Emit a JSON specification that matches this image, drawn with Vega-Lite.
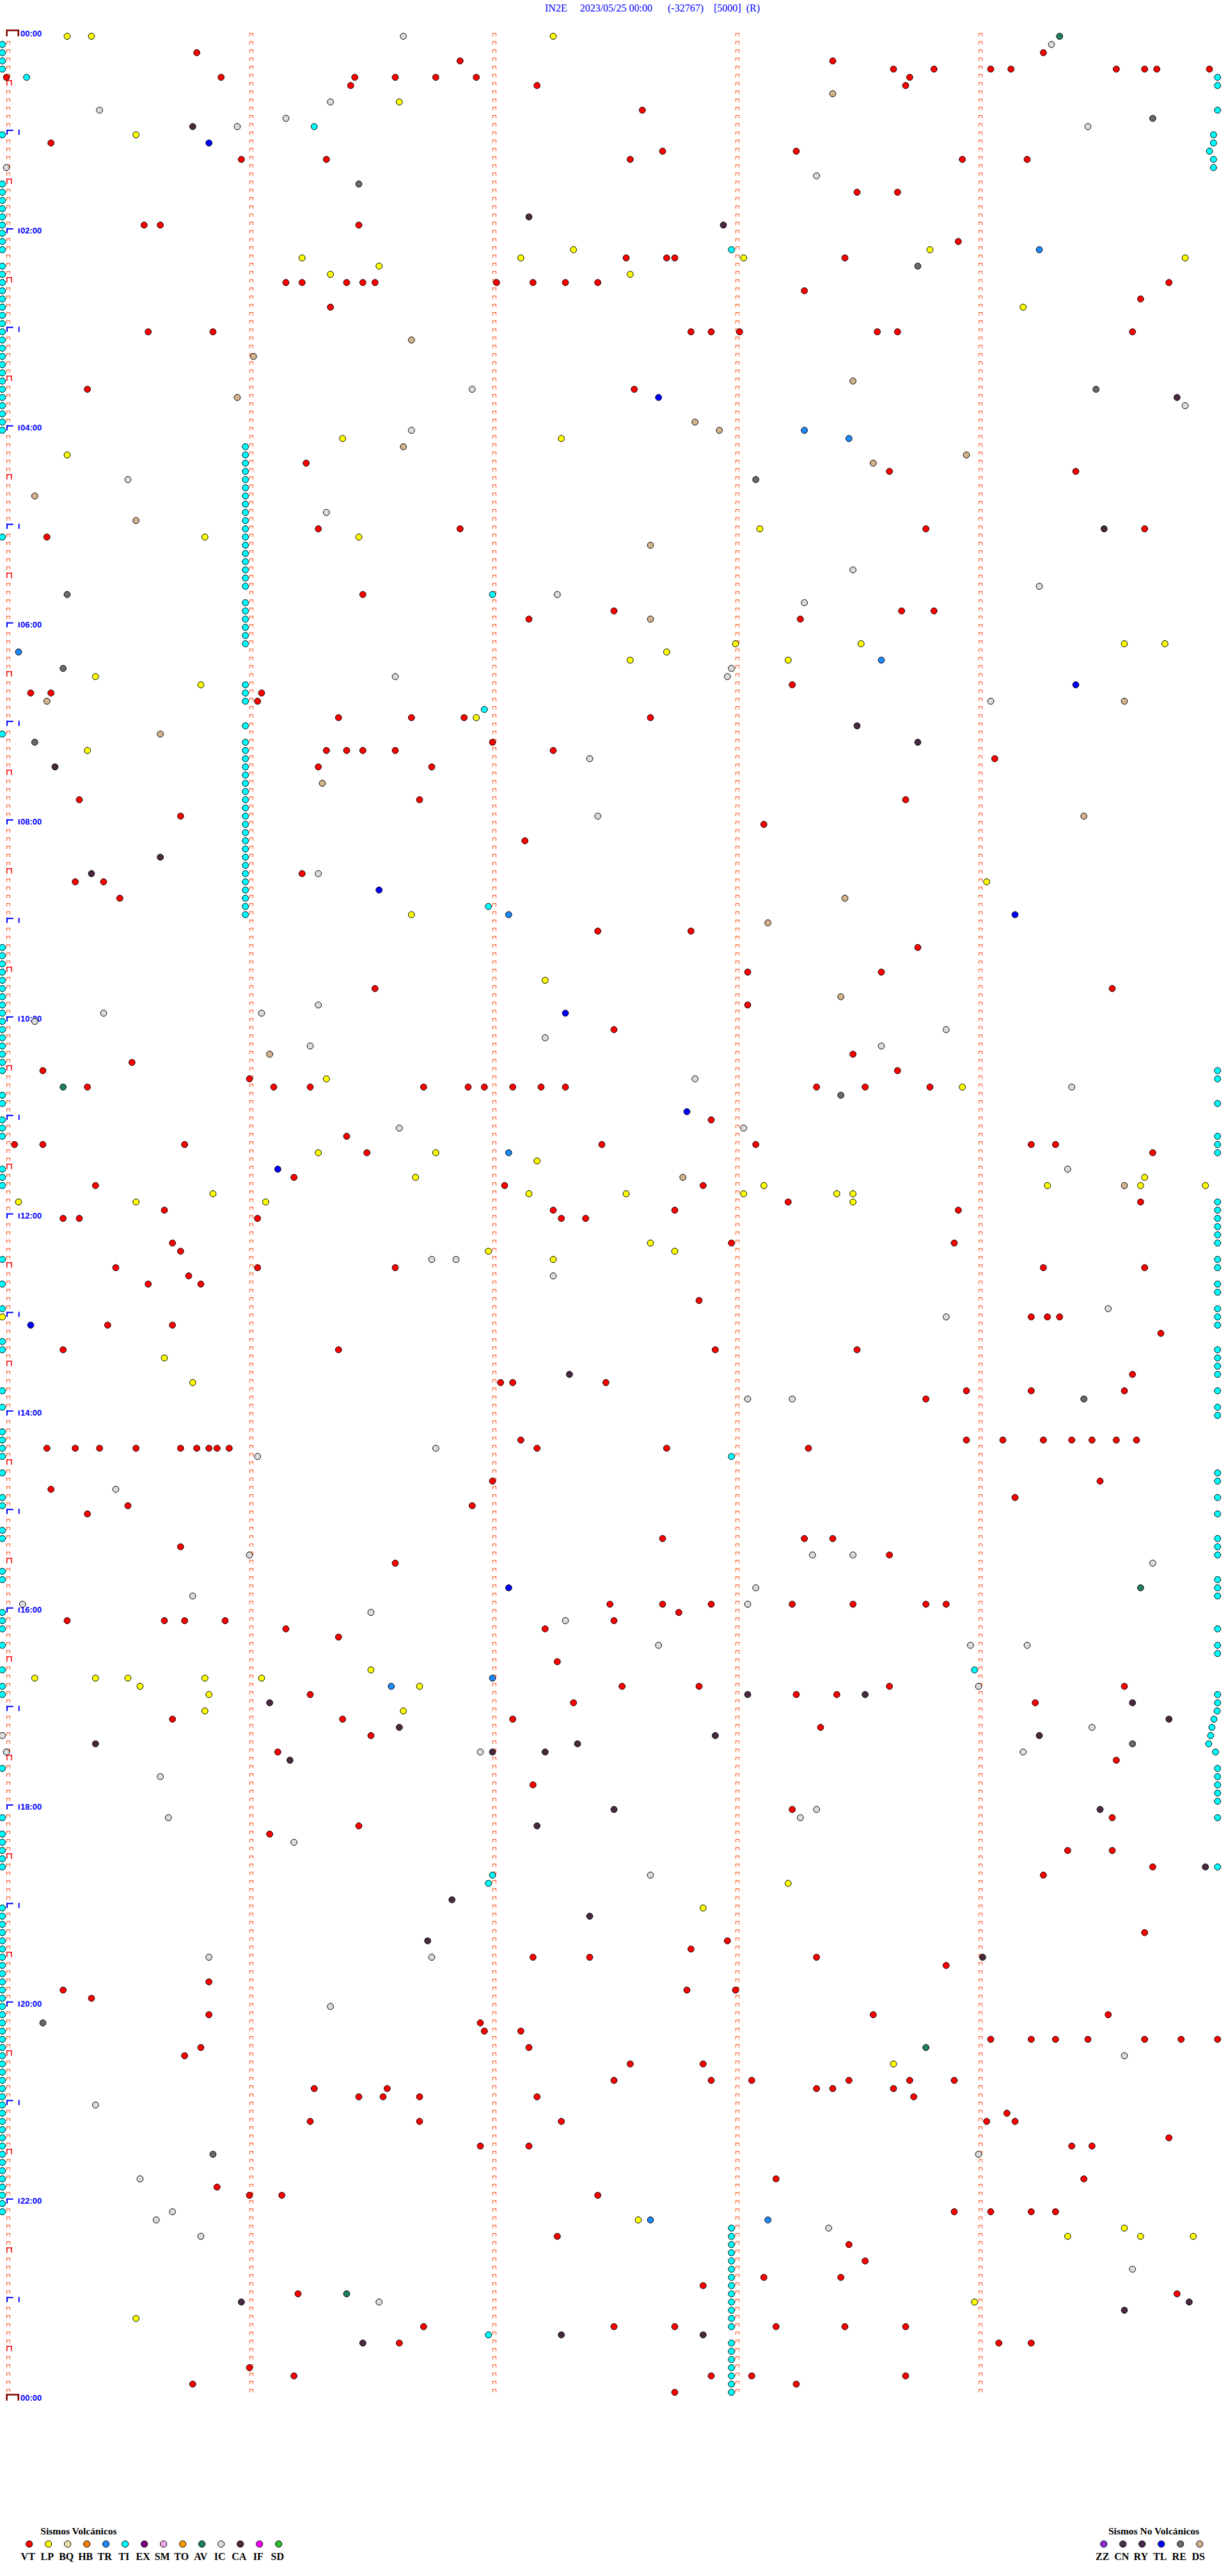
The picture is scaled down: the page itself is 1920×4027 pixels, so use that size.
{
"$schema": "https://vega.github.io/schema/vega-lite/v6.json",
"width": 1920, "height": 4027, "autosize": "none", "padding": 0, "background": "#ffffff",
"config": {"view": {"stroke": null}},
"title": {"text": "IN2E\u00a0\u00a0\u00a0\u00a0\u00a02023/05/25 00:00\u00a0\u00a0\u00a0\u00a0\u00a0\u00a0(-32767)\u00a0\u00a0\u00a0\u00a0[5000]\u00a0\u00a0(R)", "font": "Liberation Serif", "fontSize": 16, "fontWeight": "normal", "color": "#0000ff", "anchor": "middle", "frame": "group", "baseline": "alphabetic", "offset": -34, "dx": 60},
"datasets": {
"tk": [{"s":60,"a":-5,"b":1435},{"s":120,"a":-5,"b":1435},{"s":180,"a":-5,"b":1435},{"s":240,"a":-5,"b":1435}],
"tk0": [{"s":0,"a":0,"b":1440}],
"hr": [{"s":0,"a":0,"b":1380}],
"hh": [{"s":0,"a":0,"b":1410}],
"ends": [{"s":0,"m":0},{"s":0,"m":1440}],
"lab": [{"m":0,"l":"00:00"},{"m":120,"l":"02:00"},{"m":240,"l":"04:00"},{"m":360,"l":"06:00"},{"m":480,"l":"08:00"},{"m":600,"l":"10:00"},{"m":720,"l":"12:00"},{"m":840,"l":"14:00"},{"m":960,"l":"16:00"},{"m":1080,"l":"18:00"},{"m":1200,"l":"20:00"},{"m":1320,"l":"22:00"},{"m":1440,"l":"00:00"}],
"lv": [{"t":"VT"},{"t":"LP"},{"t":"BQ"},{"t":"HB"},{"t":"TR"},{"t":"TI"},{"t":"EX"},{"t":"SM"},{"t":"TO"},{"t":"AV"},{"t":"IC"},{"t":"CA"},{"t":"IF"},{"t":"SD"}],
"ln": [{"t":"ZZ"},{"t":"CN"},{"t":"RY"},{"t":"TL"},{"t":"RE"},{"t":"DS"}],
"ev": [
{"m":0,"s":15,"t":"LP"},{"m":0,"s":21,"t":"LP"},{"m":0,"s":98,"t":"IC"},{"m":0,"s":135,"t":"LP"},{"m":0,"s":260,"t":"AV"},{"m":5,"s":258,"t":"IC"},
{"m":10,"s":47,"t":"VT"},{"m":10,"s":256,"t":"VT"},{"m":15,"s":112,"t":"VT"},{"m":15,"s":204,"t":"VT"},
{"m":20,"s":219,"t":"VT"},{"m":20,"s":229,"t":"VT"},{"m":20,"s":243,"t":"VT"},{"m":20,"s":248,"t":"VT"},{"m":20,"s":274,"t":"VT"},{"m":20,"s":281,"t":"VT"},{"m":20,"s":284,"t":"VT"},{"m":20,"s":297,"t":"VT"},
{"m":25,"s":0,"t":"VT"},{"m":25,"s":5,"t":"TI"},{"m":25,"s":53,"t":"VT"},{"m":25,"s":86,"t":"VT"},{"m":25,"s":96,"t":"VT"},{"m":25,"s":106,"t":"VT"},{"m":25,"s":116,"t":"VT"},{"m":25,"s":223,"t":"VT"},
{"m":30,"s":85,"t":"VT"},{"m":30,"s":131,"t":"VT"},{"m":30,"s":222,"t":"VT"},
{"m":35,"s":204,"t":"DS"},{"m":40,"s":80,"t":"IC"},{"m":40,"s":97,"t":"LP"},{"m":45,"s":23,"t":"IC"},{"m":45,"s":157,"t":"VT"},
{"m":50,"s":69,"t":"IC"},{"m":50,"s":283,"t":"RE"},{"m":55,"s":46,"t":"CA"},{"m":55,"s":57,"t":"IC"},{"m":55,"s":76,"t":"TI"},{"m":55,"s":267,"t":"IC"},
{"m":60,"s":32,"t":"LP"},{"m":65,"s":11,"t":"VT"},{"m":65,"s":50,"t":"TL"},{"m":70,"s":162,"t":"VT"},{"m":70,"s":195,"t":"VT"},
{"m":75,"s":58,"t":"VT"},{"m":75,"s":79,"t":"VT"},{"m":75,"s":154,"t":"VT"},{"m":75,"s":236,"t":"VT"},{"m":75,"s":252,"t":"VT"},
{"m":80,"s":0,"t":"IC"},{"m":85,"s":200,"t":"IC"},{"m":90,"s":87,"t":"RE"},{"m":95,"s":210,"t":"VT"},{"m":95,"s":220,"t":"VT"},
{"m":110,"s":129,"t":"CA"},{"m":115,"s":177,"t":"CA"},{"m":115,"s":34,"t":"VT"},{"m":115,"s":38,"t":"VT"},{"m":115,"s":87,"t":"VT"},{"m":125,"s":235,"t":"VT"},
{"m":130,"s":179,"t":"TI"},{"m":130,"s":140,"t":"LP"},{"m":130,"s":228,"t":"LP"},{"m":130,"s":255,"t":"TR"},
{"m":135,"s":73,"t":"LP"},{"m":135,"s":127,"t":"LP"},{"m":135,"s":153,"t":"VT"},{"m":135,"s":163,"t":"VT"},{"m":135,"s":165,"t":"VT"},{"m":135,"s":182,"t":"LP"},{"m":135,"s":207,"t":"VT"},{"m":140,"s":225,"t":"RE"},{"m":135,"s":291,"t":"LP"},
{"m":140,"s":92,"t":"LP"},{"m":145,"s":80,"t":"LP"},
{"m":150,"s":69,"t":"VT"},{"m":150,"s":73,"t":"VT"},{"m":150,"s":84,"t":"VT"},{"m":150,"s":88,"t":"VT"},{"m":150,"s":91,"t":"VT"},{"m":150,"s":121,"t":"VT"},{"m":150,"s":130,"t":"VT"},{"m":150,"s":138,"t":"VT"},{"m":150,"s":146,"t":"VT"},{"m":150,"s":287,"t":"VT"},
{"m":145,"s":154,"t":"LP"},{"m":155,"s":197,"t":"VT"},{"m":160,"s":280,"t":"VT"},{"m":165,"s":80,"t":"VT"},{"m":165,"s":251,"t":"LP"},
{"m":180,"s":35,"t":"VT"},{"m":180,"s":51,"t":"VT"},{"m":180,"s":169,"t":"VT"},{"m":180,"s":174,"t":"VT"},{"m":180,"s":181,"t":"VT"},{"m":180,"s":215,"t":"VT"},{"m":180,"s":220,"t":"VT"},{"m":180,"s":278,"t":"VT"},
{"m":185,"s":100,"t":"DS"},{"m":195,"s":61,"t":"DS"},
{"m":215,"s":20,"t":"VT"},{"m":215,"s":115,"t":"IC"},{"m":215,"s":155,"t":"VT"},{"m":220,"s":161,"t":"TL"},{"m":210,"s":209,"t":"DS"},{"m":215,"s":269,"t":"RE"},{"m":220,"s":289,"t":"CA"},{"m":225,"s":291,"t":"IC"},{"m":220,"s":57,"t":"DS"},
{"m":240,"s":100,"t":"IC"},{"m":235,"s":170,"t":"DS"},{"m":240,"s":176,"t":"DS"},{"m":240,"s":197,"t":"TR"},{"m":245,"s":208,"t":"TR"},{"m":245,"s":83,"t":"LP"},{"m":245,"s":137,"t":"LP"},{"m":250,"s":98,"t":"DS"},
{"m":255,"s":15,"t":"LP"},{"m":260,"s":214,"t":"DS"},{"m":255,"s":237,"t":"DS"},{"m":260,"s":74,"t":"VT"},{"m":265,"s":218,"t":"VT"},{"m":265,"s":264,"t":"VT"},{"m":270,"s":30,"t":"IC"},{"m":270,"s":185,"t":"RE"},
{"m":280,"s":7,"t":"DS"},{"m":290,"s":79,"t":"IC"},{"m":295,"s":32,"t":"DS"},{"m":300,"s":77,"t":"VT"},{"m":305,"s":87,"t":"LP"},{"m":300,"s":112,"t":"VT"},{"m":305,"s":10,"t":"VT"},{"m":305,"s":49,"t":"LP"},{"m":300,"s":186,"t":"LP"},{"m":300,"s":227,"t":"VT"},{"m":300,"s":271,"t":"CA"},{"m":300,"s":281,"t":"VT"},
{"m":310,"s":159,"t":"DS"},{"m":325,"s":209,"t":"IC"},{"m":340,"s":15,"t":"RE"},{"m":335,"s":255,"t":"IC"},{"m":340,"s":136,"t":"IC"},{"m":340,"s":120,"t":"TI"},{"m":340,"s":88,"t":"VT"},{"m":345,"s":197,"t":"IC"},{"m":350,"s":150,"t":"VT"},{"m":350,"s":221,"t":"VT"},{"m":350,"s":229,"t":"VT"},{"m":355,"s":129,"t":"VT"},{"m":355,"s":196,"t":"VT"},{"m":355,"s":159,"t":"DS"},
{"m":370,"s":180,"t":"LP"},{"m":370,"s":211,"t":"LP"},{"m":370,"s":276,"t":"LP"},{"m":370,"s":286,"t":"LP"},{"m":375,"s":3,"t":"TR"},{"m":375,"s":163,"t":"LP"},{"m":380,"s":154,"t":"LP"},{"m":380,"s":193,"t":"LP"},{"m":380,"s":216,"t":"TR"},{"m":385,"s":14,"t":"RE"},{"m":390,"s":22,"t":"LP"},{"m":390,"s":96,"t":"IC"},{"m":385,"s":179,"t":"IC"},{"m":390,"s":178,"t":"IC"},{"m":395,"s":48,"t":"LP"},{"m":395,"s":264,"t":"TL"},
{"m":400,"s":6,"t":"VT"},{"m":400,"s":11,"t":"VT"},{"m":405,"s":10,"t":"DS"},{"m":400,"s":63,"t":"VT"},{"m":405,"s":62,"t":"VT"},{"m":405,"s":243,"t":"IC"},{"m":405,"s":276,"t":"DS"},{"m":395,"s":194,"t":"VT"},
{"m":410,"s":118,"t":"TI"},{"m":415,"s":116,"t":"LP"},{"m":415,"s":82,"t":"VT"},{"m":415,"s":100,"t":"VT"},{"m":415,"s":113,"t":"VT"},{"m":415,"s":159,"t":"VT"},{"m":420,"s":210,"t":"CA"},{"m":425,"s":38,"t":"DS"},
{"m":430,"s":7,"t":"RE"},{"m":430,"s":225,"t":"CA"},{"m":440,"s":244,"t":"VT"},{"m":435,"s":20,"t":"LP"},{"m":435,"s":79,"t":"VT"},{"m":435,"s":84,"t":"VT"},{"m":435,"s":88,"t":"VT"},{"m":435,"s":96,"t":"VT"},{"m":430,"s":120,"t":"VT"},{"m":435,"s":135,"t":"VT"},
{"m":445,"s":12,"t":"CA"},{"m":445,"s":77,"t":"VT"},{"m":445,"s":105,"t":"VT"},{"m":440,"s":144,"t":"IC"},{"m":455,"s":78,"t":"DS"},
{"m":465,"s":18,"t":"VT"},{"m":465,"s":102,"t":"VT"},{"m":465,"s":222,"t":"VT"},{"m":475,"s":43,"t":"VT"},{"m":475,"s":146,"t":"IC"},{"m":480,"s":187,"t":"VT"},{"m":475,"s":266,"t":"DS"},{"m":490,"s":128,"t":"VT"},
{"m":500,"s":38,"t":"CA"},{"m":510,"s":21,"t":"CA"},{"m":515,"s":17,"t":"VT"},{"m":515,"s":24,"t":"VT"},{"m":525,"s":28,"t":"VT"},{"m":510,"s":73,"t":"VT"},{"m":510,"s":77,"t":"IC"},{"m":520,"s":92,"t":"TL"},{"m":515,"s":242,"t":"LP"},{"m":525,"s":207,"t":"DS"},
{"m":535,"s":100,"t":"LP"},{"m":530,"s":119,"t":"TI"},{"m":535,"s":124,"t":"TR"},{"m":535,"s":249,"t":"TL"},{"m":545,"s":146,"t":"VT"},{"m":545,"s":169,"t":"VT"},{"m":555,"s":225,"t":"VT"},{"m":540,"s":188,"t":"DS"},
{"m":570,"s":183,"t":"VT"},{"m":575,"s":133,"t":"LP"},{"m":570,"s":216,"t":"VT"},{"m":580,"s":273,"t":"VT"},{"m":580,"s":91,"t":"VT"},{"m":585,"s":206,"t":"DS"},{"m":590,"s":183,"t":"VT"},{"m":590,"s":77,"t":"IC"},{"m":595,"s":63,"t":"IC"},{"m":595,"s":24,"t":"IC"},{"m":595,"s":138,"t":"TL"},{"m":600,"s":7,"t":"IC"},{"m":605,"s":232,"t":"IC"},{"m":605,"s":150,"t":"VT"},{"m":610,"s":133,"t":"IC"},{"m":615,"s":75,"t":"IC"},{"m":620,"s":65,"t":"DS"},{"m":615,"s":216,"t":"IC"},{"m":620,"s":209,"t":"VT"},{"m":625,"s":31,"t":"VT"},{"m":630,"s":9,"t":"VT"},{"m":630,"s":220,"t":"VT"},
{"m":640,"s":14,"t":"AV"},{"m":640,"s":20,"t":"VT"},{"m":635,"s":60,"t":"VT"},{"m":640,"s":66,"t":"VT"},{"m":640,"s":75,"t":"VT"},{"m":635,"s":79,"t":"LP"},{"m":640,"s":103,"t":"VT"},{"m":640,"s":114,"t":"VT"},{"m":640,"s":118,"t":"VT"},{"m":640,"s":125,"t":"VT"},{"m":640,"s":132,"t":"VT"},{"m":640,"s":138,"t":"VT"},{"m":635,"s":170,"t":"IC"},{"m":640,"s":200,"t":"VT"},{"m":645,"s":206,"t":"RE"},{"m":640,"s":212,"t":"VT"},{"m":640,"s":228,"t":"VT"},{"m":640,"s":236,"t":"LP"},{"m":640,"s":263,"t":"IC"},
{"m":655,"s":168,"t":"TL"},{"m":660,"s":174,"t":"VT"},{"m":665,"s":97,"t":"IC"},{"m":665,"s":182,"t":"IC"},{"m":670,"s":84,"t":"VT"},{"m":675,"s":44,"t":"VT"},{"m":680,"s":77,"t":"LP"},{"m":680,"s":89,"t":"VT"},{"m":680,"s":106,"t":"LP"},{"m":680,"s":124,"t":"TR"},{"m":675,"s":147,"t":"VT"},{"m":675,"s":185,"t":"VT"},{"m":675,"s":253,"t":"VT"},{"m":675,"s":259,"t":"VT"},{"m":680,"s":283,"t":"VT"},
{"m":675,"s":2,"t":"VT"},{"m":675,"s":9,"t":"VT"},{"m":710,"s":3,"t":"LP"},
{"m":690,"s":67,"t":"TL"},{"m":695,"s":71,"t":"VT"},{"m":685,"s":131,"t":"LP"},{"m":690,"s":262,"t":"IC"},{"m":695,"s":167,"t":"DS"},{"m":695,"s":101,"t":"LP"},{"m":700,"s":22,"t":"VT"},{"m":700,"s":123,"t":"VT"},{"m":700,"s":257,"t":"LP"},{"m":700,"s":276,"t":"DS"},{"m":700,"s":280,"t":"LP"},{"m":695,"s":281,"t":"LP"},{"m":700,"s":296,"t":"LP"},
{"m":705,"s":51,"t":"LP"},{"m":710,"s":32,"t":"LP"},{"m":710,"s":64,"t":"LP"},{"m":705,"s":153,"t":"LP"},{"m":705,"s":182,"t":"LP"},{"m":700,"s":187,"t":"LP"},{"m":705,"s":205,"t":"LP"},{"m":705,"s":209,"t":"LP"},{"m":710,"s":209,"t":"LP"},{"m":705,"s":129,"t":"LP"},{"m":700,"s":172,"t":"VT"},
{"m":715,"s":39,"t":"VT"},{"m":715,"s":135,"t":"VT"},{"m":720,"s":143,"t":"VT"},{"m":720,"s":14,"t":"VT"},{"m":720,"s":18,"t":"VT"},{"m":720,"s":62,"t":"VT"},{"m":720,"s":137,"t":"VT"},{"m":715,"s":165,"t":"VT"},{"m":710,"s":193,"t":"VT"},{"m":715,"s":235,"t":"VT"},{"m":710,"s":280,"t":"VT"},
{"m":735,"s":41,"t":"VT"},{"m":740,"s":43,"t":"VT"},{"m":735,"s":159,"t":"LP"},{"m":740,"s":165,"t":"LP"},{"m":735,"s":179,"t":"VT"},{"m":735,"s":234,"t":"VT"},{"m":750,"s":281,"t":"VT"},{"m":740,"s":119,"t":"LP"},{"m":745,"s":105,"t":"IC"},{"m":745,"s":111,"t":"IC"},{"m":745,"s":135,"t":"LP"},{"m":750,"s":27,"t":"VT"},{"m":755,"s":45,"t":"VT"},{"m":750,"s":62,"t":"VT"},{"m":760,"s":48,"t":"VT"},{"m":755,"s":135,"t":"IC"},{"m":750,"s":256,"t":"VT"},{"m":750,"s":96,"t":"VT"},{"m":760,"s":35,"t":"VT"},{"m":770,"s":171,"t":"VT"},{"m":775,"s":272,"t":"IC"},
{"m":780,"s":-1,"t":"LP"},{"m":785,"s":6,"t":"TL"},{"m":785,"s":25,"t":"VT"},{"m":785,"s":41,"t":"VT"},{"m":800,"s":82,"t":"VT"},{"m":800,"s":14,"t":"VT"},{"m":780,"s":232,"t":"IC"},{"m":780,"s":253,"t":"VT"},{"m":780,"s":257,"t":"VT"},{"m":780,"s":260,"t":"VT"},{"m":790,"s":285,"t":"VT"},{"m":800,"s":175,"t":"VT"},{"m":800,"s":210,"t":"VT"},{"m":805,"s":39,"t":"LP"},{"m":815,"s":278,"t":"VT"},{"m":820,"s":46,"t":"LP"},{"m":820,"s":122,"t":"VT"},{"m":820,"s":125,"t":"VT"},{"m":815,"s":139,"t":"CA"},{"m":820,"s":148,"t":"VT"},{"m":825,"s":237,"t":"VT"},{"m":830,"s":227,"t":"VT"},{"m":825,"s":253,"t":"VT"},{"m":830,"s":266,"t":"RE"},{"m":825,"s":276,"t":"VT"},{"m":830,"s":183,"t":"IC"},{"m":830,"s":194,"t":"IC"},
{"m":855,"s":127,"t":"VT"},{"m":860,"s":131,"t":"VT"},
{"m":860,"s":10,"t":"VT"},{"m":860,"s":17,"t":"VT"},{"m":860,"s":23,"t":"VT"},{"m":860,"s":32,"t":"VT"},{"m":860,"s":43,"t":"VT"},{"m":860,"s":47,"t":"VT"},{"m":860,"s":50,"t":"VT"},{"m":860,"s":52,"t":"VT"},{"m":860,"s":55,"t":"VT"},{"m":865,"s":62,"t":"IC"},{"m":860,"s":106,"t":"IC"},{"m":860,"s":163,"t":"VT"},{"m":860,"s":198,"t":"VT"},
{"m":855,"s":237,"t":"VT"},{"m":855,"s":246,"t":"VT"},{"m":855,"s":256,"t":"VT"},{"m":855,"s":263,"t":"VT"},{"m":855,"s":268,"t":"VT"},{"m":855,"s":274,"t":"VT"},{"m":855,"s":279,"t":"VT"},
{"m":865,"s":179,"t":"TI"},{"m":880,"s":120,"t":"VT"},{"m":880,"s":270,"t":"VT"},{"m":885,"s":11,"t":"VT"},{"m":885,"s":27,"t":"IC"},{"m":890,"s":249,"t":"VT"},{"m":895,"s":115,"t":"VT"},{"m":895,"s":30,"t":"VT"},{"m":900,"s":20,"t":"VT"},
{"m":915,"s":162,"t":"VT"},{"m":915,"s":197,"t":"VT"},{"m":915,"s":204,"t":"VT"},{"m":920,"s":43,"t":"VT"},{"m":925,"s":60,"t":"IC"},{"m":925,"s":199,"t":"IC"},{"m":925,"s":209,"t":"IC"},{"m":925,"s":218,"t":"VT"},{"m":930,"s":283,"t":"IC"},{"m":930,"s":96,"t":"VT"},{"m":945,"s":280,"t":"AV"},{"m":945,"s":124,"t":"TL"},{"m":950,"s":46,"t":"IC"},{"m":955,"s":4,"t":"IC"},
{"m":955,"s":149,"t":"VT"},{"m":955,"s":162,"t":"VT"},{"m":955,"s":174,"t":"VT"},{"m":945,"s":185,"t":"IC"},{"m":955,"s":183,"t":"IC"},{"m":965,"s":150,"t":"VT"},{"m":960,"s":166,"t":"VT"},{"m":955,"s":194,"t":"VT"},{"m":955,"s":209,"t":"VT"},{"m":955,"s":227,"t":"VT"},{"m":955,"s":232,"t":"VT"},
{"m":965,"s":15,"t":"VT"},{"m":965,"s":39,"t":"VT"},{"m":965,"s":44,"t":"VT"},{"m":965,"s":54,"t":"VT"},{"m":960,"s":90,"t":"IC"},{"m":965,"s":138,"t":"IC"},{"m":970,"s":133,"t":"VT"},{"m":970,"s":69,"t":"VT"},{"m":975,"s":82,"t":"VT"},{"m":980,"s":161,"t":"IC"},{"m":980,"s":238,"t":"IC"},{"m":980,"s":252,"t":"IC"},
{"m":1000,"s":7,"t":"LP"},{"m":1000,"s":22,"t":"LP"},{"m":1000,"s":30,"t":"LP"},{"m":1000,"s":49,"t":"LP"},{"m":1000,"s":63,"t":"LP"},
{"m":1005,"s":33,"t":"LP"},{"m":1010,"s":50,"t":"LP"},{"m":1020,"s":49,"t":"LP"},{"m":995,"s":90,"t":"LP"},{"m":1005,"s":95,"t":"TR"},{"m":1005,"s":102,"t":"LP"},{"m":1000,"s":120,"t":"TR"},{"m":990,"s":136,"t":"VT"},{"m":1005,"s":152,"t":"VT"},{"m":1005,"s":171,"t":"VT"},{"m":1005,"s":218,"t":"VT"},{"m":995,"s":239,"t":"TI"},{"m":1005,"s":240,"t":"IC"},{"m":1015,"s":254,"t":"VT"},{"m":1005,"s":276,"t":"VT"},{"m":1015,"s":278,"t":"CA"},{"m":1025,"s":287,"t":"CA"},
{"m":1015,"s":65,"t":"CA"},{"m":1010,"s":75,"t":"VT"},{"m":1010,"s":183,"t":"CA"},{"m":1010,"s":195,"t":"VT"},{"m":1010,"s":205,"t":"VT"},{"m":1010,"s":212,"t":"CA"},{"m":1015,"s":140,"t":"VT"},{"m":1025,"s":41,"t":"VT"},{"m":1025,"s":83,"t":"VT"},{"m":1035,"s":90,"t":"VT"},{"m":1030,"s":97,"t":"CA"},{"m":1020,"s":98,"t":"LP"},{"m":1025,"s":125,"t":"VT"},{"m":1035,"s":175,"t":"CA"},{"m":1030,"s":201,"t":"VT"},{"m":1030,"s":268,"t":"IC"},{"m":1035,"s":255,"t":"CA"},
{"m":1040,"s":22,"t":"CA"},{"m":1045,"s":67,"t":"VT"},{"m":1050,"s":70,"t":"CA"},{"m":1045,"s":117,"t":"IC"},{"m":1045,"s":120,"t":"CA"},{"m":1045,"s":133,"t":"CA"},{"m":1040,"s":141,"t":"CA"},{"m":1045,"s":251,"t":"IC"},{"m":1050,"s":274,"t":"VT"},{"m":1040,"s":278,"t":"RE"},
{"m":1035,"s":-1,"t":"IC"},{"m":1045,"s":0,"t":"IC"},
{"m":1060,"s":38,"t":"IC"},{"m":1065,"s":130,"t":"VT"},{"m":1080,"s":194,"t":"VT"},{"m":1085,"s":196,"t":"IC"},{"m":1080,"s":200,"t":"IC"},{"m":1080,"s":270,"t":"CA"},{"m":1085,"s":273,"t":"VT"},{"m":1085,"s":40,"t":"IC"},{"m":1090,"s":131,"t":"CA"},{"m":1080,"s":150,"t":"CA"},{"m":1095,"s":65,"t":"VT"},{"m":1100,"s":71,"t":"IC"},{"m":1090,"s":87,"t":"VT"},
{"m":1115,"s":283,"t":"VT"},{"m":1120,"s":159,"t":"IC"},{"m":1125,"s":193,"t":"LP"},{"m":1120,"s":256,"t":"VT"},{"m":1105,"s":262,"t":"VT"},{"m":1105,"s":273,"t":"VT"},{"m":1120,"s":120,"t":"TI"},{"m":1125,"s":119,"t":"TI"},{"m":1135,"s":110,"t":"CA"},{"m":1140,"s":172,"t":"LP"},{"m":1145,"s":144,"t":"CA"},{"m":1155,"s":281,"t":"VT"},{"m":1170,"s":200,"t":"VT"},{"m":1160,"s":104,"t":"CA"},{"m":1170,"s":105,"t":"IC"},{"m":1165,"s":169,"t":"VT"},{"m":1160,"s":178,"t":"VT"},
{"m":1170,"s":50,"t":"IC"},{"m":1170,"s":130,"t":"VT"},{"m":1170,"s":144,"t":"VT"},{"m":1175,"s":232,"t":"VT"},{"m":1170,"s":241,"t":"CA"},{"m":1190,"s":14,"t":"VT"},{"m":1195,"s":21,"t":"VT"},{"m":1200,"s":80,"t":"IC"},{"m":1185,"s":50,"t":"VT"},{"m":1205,"s":214,"t":"VT"},{"m":1205,"s":272,"t":"VT"},{"m":1205,"s":50,"t":"VT"},{"m":1190,"s":168,"t":"VT"},{"m":1190,"s":180,"t":"VT"},{"m":1210,"s":9,"t":"RE"},{"m":1210,"s":117,"t":"VT"},{"m":1215,"s":118,"t":"VT"},{"m":1215,"s":127,"t":"VT"},{"m":1225,"s":129,"t":"VT"},{"m":1225,"s":48,"t":"VT"},{"m":1230,"s":44,"t":"VT"},{"m":1235,"s":154,"t":"VT"},{"m":1235,"s":172,"t":"VT"},{"m":1225,"s":227,"t":"AV"},
{"m":1220,"s":243,"t":"VT"},{"m":1220,"s":253,"t":"VT"},{"m":1220,"s":259,"t":"VT"},{"m":1220,"s":267,"t":"VT"},{"m":1220,"s":281,"t":"VT"},{"m":1220,"s":290,"t":"VT"},{"m":1220,"s":299,"t":"VT"},{"m":1230,"s":276,"t":"IC"},{"m":1235,"s":219,"t":"LP"},
{"m":1245,"s":150,"t":"VT"},{"m":1245,"s":174,"t":"VT"},{"m":1245,"s":184,"t":"VT"},{"m":1250,"s":200,"t":"VT"},{"m":1250,"s":204,"t":"VT"},{"m":1245,"s":208,"t":"VT"},{"m":1250,"s":219,"t":"VT"},{"m":1245,"s":223,"t":"VT"},{"m":1255,"s":224,"t":"VT"},{"m":1245,"s":234,"t":"VT"},{"m":1250,"s":76,"t":"VT"},{"m":1255,"s":87,"t":"VT"},{"m":1255,"s":93,"t":"VT"},{"m":1250,"s":94,"t":"VT"},{"m":1255,"s":102,"t":"VT"},{"m":1260,"s":22,"t":"IC"},{"m":1255,"s":131,"t":"VT"},{"m":1270,"s":75,"t":"VT"},{"m":1270,"s":102,"t":"VT"},{"m":1270,"s":137,"t":"VT"},{"m":1265,"s":247,"t":"VT"},{"m":1270,"s":249,"t":"VT"},{"m":1270,"s":242,"t":"VT"},{"m":1280,"s":287,"t":"VT"},{"m":1290,"s":51,"t":"RE"},{"m":1285,"s":117,"t":"VT"},{"m":1285,"s":129,"t":"VT"},{"m":1290,"s":240,"t":"IC"},{"m":1285,"s":263,"t":"VT"},{"m":1285,"s":268,"t":"VT"},{"m":1305,"s":190,"t":"VT"},{"m":1305,"s":266,"t":"VT"},{"m":1305,"s":33,"t":"IC"},{"m":1310,"s":52,"t":"VT"},
{"m":1315,"s":60,"t":"VT"},{"m":1315,"s":68,"t":"VT"},{"m":1315,"s":146,"t":"VT"},{"m":1325,"s":41,"t":"IC"},{"m":1330,"s":37,"t":"IC"},{"m":1330,"s":156,"t":"LP"},{"m":1330,"s":159,"t":"TR"},{"m":1330,"s":188,"t":"TR"},{"m":1335,"s":203,"t":"IC"},{"m":1325,"s":234,"t":"VT"},{"m":1325,"s":243,"t":"VT"},{"m":1325,"s":253,"t":"VT"},{"m":1325,"s":259,"t":"VT"},{"m":1345,"s":208,"t":"VT"},{"m":1340,"s":136,"t":"VT"},{"m":1340,"s":48,"t":"IC"},{"m":1340,"s":262,"t":"LP"},{"m":1335,"s":276,"t":"LP"},{"m":1340,"s":280,"t":"LP"},{"m":1340,"s":293,"t":"LP"},
{"m":1355,"s":212,"t":"VT"},{"m":1365,"s":206,"t":"VT"},{"m":1360,"s":278,"t":"IC"},{"m":1375,"s":72,"t":"VT"},{"m":1375,"s":84,"t":"AV"},{"m":1380,"s":92,"t":"IC"},{"m":1380,"s":58,"t":"CA"},{"m":1365,"s":187,"t":"VT"},{"m":1375,"s":289,"t":"VT"},{"m":1380,"s":292,"t":"CA"},{"m":1380,"s":239,"t":"LP"},{"m":1385,"s":276,"t":"CA"},{"m":1390,"s":32,"t":"LP"},{"m":1395,"s":103,"t":"VT"},{"m":1400,"s":119,"t":"TI"},{"m":1400,"s":137,"t":"CA"},{"m":1395,"s":150,"t":"VT"},{"m":1395,"s":165,"t":"VT"},{"m":1400,"s":172,"t":"CA"},{"m":1395,"s":190,"t":"VT"},{"m":1395,"s":207,"t":"VT"},{"m":1395,"s":222,"t":"VT"},{"m":1405,"s":88,"t":"CA"},{"m":1405,"s":97,"t":"VT"},{"m":1405,"s":245,"t":"VT"},{"m":1405,"s":253,"t":"VT"},{"m":1420,"s":60,"t":"VT"},{"m":1425,"s":71,"t":"VT"},{"m":1430,"s":46,"t":"VT"},{"m":1435,"s":165,"t":"VT"},{"m":1430,"s":195,"t":"VT"},{"m":1425,"s":222,"t":"VT"},{"m":1425,"s":174,"t":"VT"},{"m":1425,"s":184,"t":"VT"},{"m":1370,"s":172,"t":"VT"},
{"m":5,"s":-1,"t":"TI"},{"m":10,"s":-1,"t":"TI"},{"m":15,"s":-1,"t":"TI"},{"m":20,"s":-1,"t":"TI"},{"m":60,"s":-1,"t":"TI"},
{"m":90,"s":-1,"t":"TI"},{"m":95,"s":-1,"t":"TI"},{"m":100,"s":-1,"t":"TI"},{"m":105,"s":-1,"t":"TI"},{"m":110,"s":-1,"t":"TI"},{"m":115,"s":-1,"t":"TI"},{"m":120,"s":-1,"t":"TI"},{"m":125,"s":-1,"t":"TI"},{"m":130,"s":-1,"t":"TI"},
{"m":140,"s":-1,"t":"TI"},{"m":145,"s":-1,"t":"TI"},{"m":150,"s":-1,"t":"TI"},{"m":155,"s":-1,"t":"TI"},{"m":160,"s":-1,"t":"TI"},{"m":165,"s":-1,"t":"TI"},{"m":170,"s":-1,"t":"TI"},{"m":175,"s":-1,"t":"TI"},{"m":180,"s":-1,"t":"TI"},{"m":185,"s":-1,"t":"TI"},{"m":190,"s":-1,"t":"TI"},{"m":195,"s":-1,"t":"TI"},{"m":200,"s":-1,"t":"TI"},{"m":205,"s":-1,"t":"TI"},{"m":210,"s":-1,"t":"TI"},{"m":215,"s":-1,"t":"TI"},{"m":220,"s":-1,"t":"TI"},{"m":225,"s":-1,"t":"TI"},{"m":230,"s":-1,"t":"TI"},{"m":235,"s":-1,"t":"TI"},{"m":240,"s":-1,"t":"TI"},
{"m":305,"s":-1,"t":"TI"},{"m":425,"s":-1,"t":"TI"},
{"m":555,"s":-1,"t":"TI"},{"m":560,"s":-1,"t":"TI"},{"m":565,"s":-1,"t":"TI"},{"m":570,"s":-1,"t":"TI"},{"m":575,"s":-1,"t":"TI"},{"m":580,"s":-1,"t":"TI"},{"m":585,"s":-1,"t":"TI"},{"m":590,"s":-1,"t":"TI"},{"m":595,"s":-1,"t":"TI"},{"m":600,"s":-1,"t":"TI"},{"m":605,"s":-1,"t":"TI"},{"m":610,"s":-1,"t":"TI"},{"m":615,"s":-1,"t":"TI"},{"m":620,"s":-1,"t":"TI"},{"m":625,"s":-1,"t":"TI"},{"m":630,"s":-1,"t":"TI"},
{"m":645,"s":-1,"t":"TI"},{"m":650,"s":-1,"t":"TI"},{"m":660,"s":-1,"t":"TI"},{"m":665,"s":-1,"t":"TI"},{"m":670,"s":-1,"t":"TI"},{"m":690,"s":-1,"t":"TI"},{"m":695,"s":-1,"t":"TI"},{"m":700,"s":-1,"t":"TI"},
{"m":745,"s":-1,"t":"TI"},{"m":760,"s":-1,"t":"TI"},{"m":775,"s":-1,"t":"TI"},{"m":795,"s":-1,"t":"TI"},{"m":800,"s":-1,"t":"TI"},{"m":825,"s":-1,"t":"TI"},{"m":835,"s":-1,"t":"TI"},{"m":850,"s":-1,"t":"TI"},{"m":855,"s":-1,"t":"TI"},{"m":860,"s":-1,"t":"TI"},{"m":865,"s":-1,"t":"TI"},{"m":875,"s":-1,"t":"TI"},{"m":890,"s":-1,"t":"TI"},{"m":895,"s":-1,"t":"TI"},{"m":910,"s":-1,"t":"TI"},{"m":915,"s":-1,"t":"TI"},{"m":935,"s":-1,"t":"TI"},{"m":940,"s":-1,"t":"TI"},{"m":960,"s":-1,"t":"TI"},{"m":965,"s":-1,"t":"TI"},{"m":970,"s":-1,"t":"TI"},{"m":980,"s":-1,"t":"TI"},{"m":995,"s":-1,"t":"TI"},{"m":1005,"s":-1,"t":"TI"},{"m":1010,"s":-1,"t":"TI"},{"m":1055,"s":-1,"t":"TI"},{"m":1085,"s":-1,"t":"TI"},{"m":1095,"s":-1,"t":"TI"},{"m":1100,"s":-1,"t":"TI"},{"m":1105,"s":-1,"t":"TI"},{"m":1110,"s":-1,"t":"TI"},{"m":1115,"s":-1,"t":"TI"},
{"m":1140,"s":-1,"t":"TI"},{"m":1145,"s":-1,"t":"TI"},{"m":1150,"s":-1,"t":"TI"},{"m":1155,"s":-1,"t":"TI"},{"m":1160,"s":-1,"t":"TI"},{"m":1165,"s":-1,"t":"TI"},{"m":1170,"s":-1,"t":"TI"},{"m":1175,"s":-1,"t":"TI"},{"m":1180,"s":-1,"t":"TI"},{"m":1185,"s":-1,"t":"TI"},{"m":1190,"s":-1,"t":"TI"},{"m":1195,"s":-1,"t":"TI"},{"m":1200,"s":-1,"t":"TI"},{"m":1205,"s":-1,"t":"TI"},{"m":1210,"s":-1,"t":"TI"},{"m":1215,"s":-1,"t":"TI"},{"m":1220,"s":-1,"t":"TI"},{"m":1225,"s":-1,"t":"TI"},{"m":1230,"s":-1,"t":"TI"},{"m":1235,"s":-1,"t":"TI"},{"m":1240,"s":-1,"t":"TI"},{"m":1245,"s":-1,"t":"TI"},{"m":1250,"s":-1,"t":"TI"},{"m":1255,"s":-1,"t":"TI"},{"m":1260,"s":-1,"t":"TI"},{"m":1265,"s":-1,"t":"TI"},{"m":1270,"s":-1,"t":"TI"},{"m":1275,"s":-1,"t":"TI"},{"m":1280,"s":-1,"t":"TI"},{"m":1285,"s":-1,"t":"TI"},{"m":1290,"s":-1,"t":"TI"},{"m":1295,"s":-1,"t":"TI"},{"m":1300,"s":-1,"t":"TI"},{"m":1305,"s":-1,"t":"TI"},{"m":1310,"s":-1,"t":"TI"},{"m":1315,"s":-1,"t":"TI"},{"m":1320,"s":-1,"t":"TI"},{"m":1325,"s":-1,"t":"TI"},
{"m":250,"s":59,"t":"TI"},{"m":255,"s":59,"t":"TI"},{"m":260,"s":59,"t":"TI"},{"m":265,"s":59,"t":"TI"},{"m":270,"s":59,"t":"TI"},{"m":275,"s":59,"t":"TI"},{"m":280,"s":59,"t":"TI"},{"m":285,"s":59,"t":"TI"},{"m":290,"s":59,"t":"TI"},{"m":295,"s":59,"t":"TI"},{"m":300,"s":59,"t":"TI"},{"m":305,"s":59,"t":"TI"},{"m":310,"s":59,"t":"TI"},{"m":315,"s":59,"t":"TI"},{"m":320,"s":59,"t":"TI"},{"m":325,"s":59,"t":"TI"},{"m":330,"s":59,"t":"TI"},{"m":335,"s":59,"t":"TI"},
{"m":345,"s":59,"t":"TI"},{"m":350,"s":59,"t":"TI"},{"m":355,"s":59,"t":"TI"},{"m":360,"s":59,"t":"TI"},{"m":365,"s":59,"t":"TI"},{"m":370,"s":59,"t":"TI"},{"m":395,"s":59,"t":"TI"},{"m":400,"s":59,"t":"TI"},{"m":405,"s":59,"t":"TI"},{"m":420,"s":59,"t":"TI"},
{"m":430,"s":59,"t":"TI"},{"m":435,"s":59,"t":"TI"},{"m":440,"s":59,"t":"TI"},{"m":445,"s":59,"t":"TI"},{"m":450,"s":59,"t":"TI"},{"m":455,"s":59,"t":"TI"},{"m":460,"s":59,"t":"TI"},{"m":465,"s":59,"t":"TI"},{"m":470,"s":59,"t":"TI"},{"m":475,"s":59,"t":"TI"},{"m":480,"s":59,"t":"TI"},{"m":485,"s":59,"t":"TI"},{"m":490,"s":59,"t":"TI"},{"m":495,"s":59,"t":"TI"},{"m":500,"s":59,"t":"TI"},{"m":505,"s":59,"t":"TI"},{"m":510,"s":59,"t":"TI"},{"m":515,"s":59,"t":"TI"},{"m":520,"s":59,"t":"TI"},{"m":525,"s":59,"t":"TI"},{"m":530,"s":59,"t":"TI"},{"m":535,"s":59,"t":"TI"},
{"m":1335,"s":179,"t":"TI"},{"m":1340,"s":179,"t":"TI"},{"m":1345,"s":179,"t":"TI"},{"m":1350,"s":179,"t":"TI"},{"m":1355,"s":179,"t":"TI"},{"m":1360,"s":179,"t":"TI"},{"m":1365,"s":179,"t":"TI"},{"m":1370,"s":179,"t":"TI"},{"m":1375,"s":179,"t":"TI"},{"m":1380,"s":179,"t":"TI"},{"m":1385,"s":179,"t":"TI"},{"m":1390,"s":179,"t":"TI"},{"m":1395,"s":179,"t":"TI"},{"m":1405,"s":179,"t":"TI"},{"m":1410,"s":179,"t":"TI"},{"m":1415,"s":179,"t":"TI"},{"m":1420,"s":179,"t":"TI"},{"m":1425,"s":179,"t":"TI"},{"m":1430,"s":179,"t":"TI"},{"m":1435,"s":179,"t":"TI"},
{"m":25,"s":299,"t":"TI"},{"m":30,"s":299,"t":"TI"},{"m":45,"s":299,"t":"TI"},{"m":60,"s":298,"t":"TI"},{"m":65,"s":298,"t":"TI"},{"m":70,"s":297,"t":"TI"},{"m":75,"s":298,"t":"TI"},{"m":80,"s":298,"t":"TI"},
{"m":630,"s":299,"t":"TI"},{"m":635,"s":299,"t":"TI"},{"m":650,"s":299,"t":"TI"},{"m":670,"s":299,"t":"TI"},{"m":675,"s":299,"t":"TI"},{"m":680,"s":299,"t":"TI"},{"m":710,"s":299,"t":"TI"},{"m":715,"s":299,"t":"TI"},{"m":720,"s":299,"t":"TI"},{"m":725,"s":299,"t":"TI"},{"m":730,"s":299,"t":"TI"},{"m":735,"s":299,"t":"TI"},{"m":745,"s":299,"t":"TI"},{"m":750,"s":299,"t":"TI"},{"m":760,"s":299,"t":"TI"},{"m":765,"s":299,"t":"TI"},{"m":775,"s":299,"t":"TI"},{"m":780,"s":299,"t":"TI"},{"m":785,"s":299,"t":"TI"},{"m":800,"s":299,"t":"TI"},{"m":805,"s":299,"t":"TI"},{"m":810,"s":299,"t":"TI"},{"m":815,"s":299,"t":"TI"},{"m":825,"s":299,"t":"TI"},{"m":835,"s":299,"t":"TI"},{"m":840,"s":299,"t":"TI"},{"m":875,"s":299,"t":"TI"},{"m":880,"s":299,"t":"TI"},{"m":890,"s":299,"t":"TI"},{"m":900,"s":299,"t":"TI"},{"m":915,"s":299,"t":"TI"},{"m":920,"s":299,"t":"TI"},{"m":925,"s":299,"t":"TI"},{"m":940,"s":299,"t":"TI"},{"m":945,"s":299,"t":"TI"},{"m":950,"s":299,"t":"TI"},{"m":970,"s":299,"t":"TI"},{"m":980,"s":299,"t":"TI"},{"m":985,"s":299,"t":"TI"},{"m":1010,"s":299,"t":"TI"},{"m":1015,"s":299,"t":"TI"},{"m":1020,"s":298.9,"t":"TI"},{"m":1025,"s":298.1,"t":"TI"},{"m":1030,"s":297.6,"t":"TI"},{"m":1035,"s":297.3,"t":"TI"},{"m":1040,"s":296.8,"t":"TI"},{"m":1045,"s":298.5,"t":"TI"},{"m":1055,"s":299,"t":"TI"},{"m":1060,"s":299,"t":"TI"},{"m":1065,"s":299,"t":"TI"},{"m":1070,"s":299,"t":"TI"},{"m":1075,"s":299,"t":"TI"},{"m":1085,"s":299,"t":"TI"},{"m":1115,"s":299,"t":"TI"},{"m":1115,"s":296,"t":"CA"}
]
},
"layer": [
{"layer": [
 {"data":{"name":"tk"},"mark":{"type":"rule","color":"#ff4a10","strokeWidth":1,"strokeDash":[5,7.8333],"strokeDashOffset":5,"xOffset":0.5},
  "encoding":{"x":{"field":"s","type":"quantitative","scale":{"domain":[0,300],"range":[10,1910],"nice":false,"zero":false},"axis":null},"y":{"field":"a","type":"quantitative","scale":{"domain":[0,1440],"range":[56.7,3752.7],"nice":false,"zero":false},"axis":null},"y2":{"field":"b"}}},
 {"data":{"name":"tk"},"mark":{"type":"rule","color":"#ff4a10","strokeWidth":1,"strokeDash":[5,7.8333],"strokeDashOffset":5,"xOffset":5.5},
  "encoding":{"x":{"field":"s","type":"quantitative","axis":null},"y":{"field":"a","type":"quantitative","axis":null},"y2":{"field":"b"}}},
 {"data":{"name":"tk"},"mark":{"type":"rule","color":"#ff4a10","strokeWidth":6,"strokeDash":[1,11.8333],"strokeDashOffset":5,"xOffset":3},
  "encoding":{"x":{"field":"s","type":"quantitative","axis":null},"y":{"field":"a","type":"quantitative","axis":null},"y2":{"field":"b"}}},
 {"data":{"name":"tk0"},"mark":{"type":"rule","color":"#ff4a10","strokeWidth":1,"strokeDash":[5,7.8333,5,7.8333,5,7.8333,5,7.8333,5,20.6667],"strokeDashOffset":69.1667,"xOffset":0.5},
  "encoding":{"x":{"field":"s","type":"quantitative","axis":null},"y":{"field":"a","type":"quantitative","axis":null},"y2":{"field":"b"}}},
 {"data":{"name":"tk0"},"mark":{"type":"rule","color":"#ff4a10","strokeWidth":1,"strokeDash":[5,7.8333,5,7.8333,5,7.8333,5,7.8333,5,20.6667],"strokeDashOffset":69.1667,"xOffset":5.5},
  "encoding":{"x":{"field":"s","type":"quantitative","axis":null},"y":{"field":"a","type":"quantitative","axis":null},"y2":{"field":"b"}}},
 {"data":{"name":"tk0"},"mark":{"type":"rule","color":"#ff4a10","strokeWidth":6,"strokeDash":[1,11.8333,1,11.8333,1,11.8333,1,11.8333,1,24.6667],"strokeDashOffset":69.1667,"xOffset":3},
  "encoding":{"x":{"field":"s","type":"quantitative","axis":null},"y":{"field":"a","type":"quantitative","axis":null},"y2":{"field":"b"}}},
 {"data":{"name":"hr"},"mark":{"type":"rule","color":"#0000ff","strokeWidth":2,"strokeDash":[8,146],"strokeDashOffset":8,"xOffset":1},
  "encoding":{"x":{"field":"s","type":"quantitative","axis":null},"y":{"field":"a","type":"quantitative","axis":null},"y2":{"field":"b"}}},
 {"data":{"name":"hr"},"mark":{"type":"rule","color":"#0000ff","strokeWidth":2,"strokeDash":[8,146],"strokeDashOffset":8,"xOffset":19.7},
  "encoding":{"x":{"field":"s","type":"quantitative","axis":null},"y":{"field":"a","type":"quantitative","axis":null},"y2":{"field":"b"}}},
 {"data":{"name":"hr"},"mark":{"type":"rule","color":"#0000ff","strokeWidth":10.7,"strokeDash":[2,152],"strokeDashOffset":8,"xOffset":5.35},
  "encoding":{"x":{"field":"s","type":"quantitative","axis":null},"y":{"field":"a","type":"quantitative","axis":null},"y2":{"field":"b"}}},
 {"data":{"name":"hh"},"mark":{"type":"rule","color":"#ff0000","strokeWidth":1.5,"strokeDash":[8.5,145.5],"strokeDashOffset":85.5,"xOffset":0.75},
  "encoding":{"x":{"field":"s","type":"quantitative","axis":null},"y":{"field":"a","type":"quantitative","axis":null},"y2":{"field":"b"}}},
 {"data":{"name":"hh"},"mark":{"type":"rule","color":"#ff0000","strokeWidth":1.5,"strokeDash":[8.5,145.5],"strokeDashOffset":85.5,"xOffset":7.95},
  "encoding":{"x":{"field":"s","type":"quantitative","axis":null},"y":{"field":"a","type":"quantitative","axis":null},"y2":{"field":"b"}}},
 {"data":{"name":"hh"},"mark":{"type":"rule","color":"#ff0000","strokeWidth":8.7,"strokeDash":[1.5,152.5],"strokeDashOffset":85.5,"xOffset":4.35},
  "encoding":{"x":{"field":"s","type":"quantitative","axis":null},"y":{"field":"a","type":"quantitative","axis":null},"y2":{"field":"b"}}},
 {"data":{"name":"ends"},"mark":{"type":"point","shape":"M 0.6 0 L 0.6 -9.3 L 18.8 -9.3 L 18.8 0","size":4,"filled":false,"stroke":"#800000","strokeWidth":2.5,"opacity":1},
  "encoding":{"x":{"field":"s","type":"quantitative","axis":null},"y":{"field":"m","type":"quantitative","axis":null}}},
 {"data":{"name":"lab"},"mark":{"type":"text","font":"Liberation Sans","fontWeight":"bold","fontSize":13,"color":"#0000ff","align":"left","baseline":"alphabetic","dx":22},
  "encoding":{"x":{"datum":0,"type":"quantitative","axis":null},"y":{"field":"m","type":"quantitative","axis":null},"text":{"field":"l"}}},
 {"data":{"name":"ev"},"mark":{"type":"point","shape":"circle","filled":true,"size":95,"stroke":"#000000","strokeWidth":1,"opacity":1},
  "encoding":{"x":{"field":"s","type":"quantitative","axis":null},
   "y":{"field":"m","type":"quantitative","axis":null},
   "fill":{"field":"t","type":"nominal","legend":null,"scale":{"domain":["VT","LP","BQ","HB","TR","TI","EX","SM","TO","AV","IC","CA","IF","SD","ZZ","CN","RY","TL","RE","DS"],"range":["#ff0000","#ffff00","#f0e0a8","#ff8000","#1e88ff","#00ffff","#800080","#f0a8e8","#ffa000","#1f7f5f","#dcdcdc","#4a2a40","#ff00ff","#30c030","#8a30d8","#4a3050","#4a2848","#0000ff","#6a6a6a","#d4b48c"]}}}}
]},
{"layer": [
 {"data":{"name":"lv"},"mark":{"type":"point","shape":"circle","filled":true,"size":105,"stroke":"#000000","strokeWidth":1,"opacity":1},
  "encoding":{"x":{"field":"t","type":"nominal","sort":null,"scale":{"type":"point","padding":0,"domain":["VT","LP","BQ","HB","TR","TI","EX","SM","TO","AV","IC","CA","IF","SD"],"range":[45.7,435.7]},"axis":null},
   "y":{"datum":0,"type":"quantitative","scale":{"domain":[-1,1],"range":[3957,3997],"nice":false,"zero":false},"axis":null},
   "fill":{"field":"t","type":"nominal","legend":null}}},
 {"data":{"name":"lv"},"mark":{"type":"text","font":"Liberation Serif","fontWeight":"bold","fontSize":16,"baseline":"middle","align":"center","color":"#000000","dx":-2},
  "encoding":{"x":{"field":"t","type":"nominal","axis":null},"y":{"datum":1,"type":"quantitative","axis":null},"text":{"field":"t"}}},
 {"data":{"values":[{"g":"Sismos Volcánicos"}]},"mark":{"type":"text","font":"Liberation Serif","fontWeight":"bold","fontSize":15.5,"baseline":"middle","align":"left","color":"#000000","dx":17.6},
  "encoding":{"x":{"datum":"VT","type":"nominal","axis":null},"y":{"datum":-1,"type":"quantitative","axis":null},"text":{"field":"g"}}}
]},
{"layer": [
 {"data":{"name":"ln"},"mark":{"type":"point","shape":"circle","filled":true,"size":105,"stroke":"#000000","strokeWidth":1,"opacity":1},
  "encoding":{"x":{"field":"t","type":"nominal","sort":null,"scale":{"type":"point","padding":0,"domain":["ZZ","CN","RY","TL","RE","DS"],"range":[1725.7,1875.7]},"axis":null},
   "y":{"datum":0,"type":"quantitative","scale":{"domain":[-1,1],"range":[3957,3997],"nice":false,"zero":false},"axis":null},
   "fill":{"field":"t","type":"nominal","legend":null}}},
 {"data":{"name":"ln"},"mark":{"type":"text","font":"Liberation Serif","fontWeight":"bold","fontSize":16,"baseline":"middle","align":"center","color":"#000000","dx":-2},
  "encoding":{"x":{"field":"t","type":"nominal","axis":null},"y":{"datum":1,"type":"quantitative","axis":null},"text":{"field":"t"}}},
 {"data":{"values":[{"g":"Sismos No Volcánicos"}]},"mark":{"type":"text","font":"Liberation Serif","fontWeight":"bold","fontSize":15.5,"baseline":"middle","align":"left","color":"#000000","dx":7.3},
  "encoding":{"x":{"datum":"ZZ","type":"nominal","axis":null},"y":{"datum":-1,"type":"quantitative","axis":null},"text":{"field":"g"}}}
]}
],
"resolve": {"scale": {"x": "independent", "y": "independent"}}
}
